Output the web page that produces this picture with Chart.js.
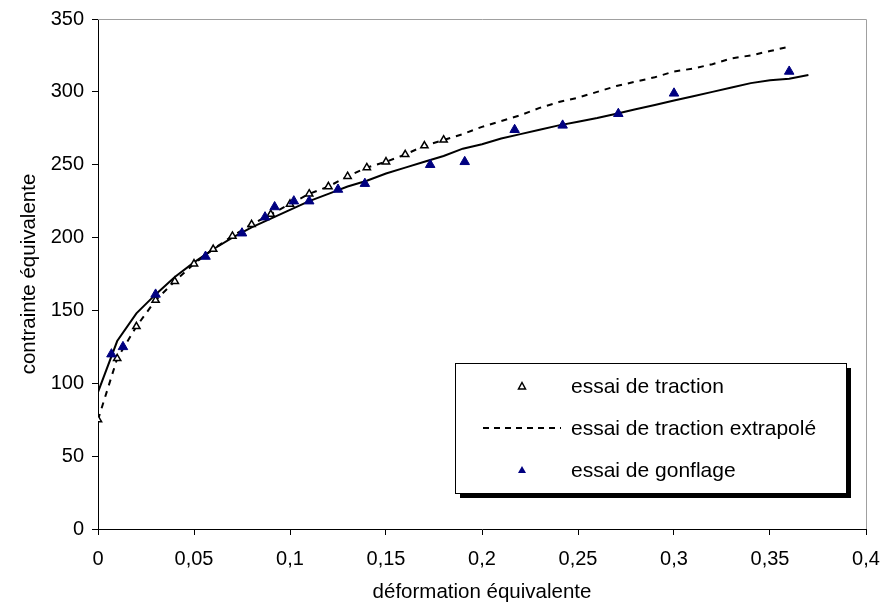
<!DOCTYPE html>
<html>
<head>
<meta charset="utf-8">
<script src="https://cdn.jsdelivr.net/npm/chart.js"></script>
<style>
  html, body { margin: 0; padding: 0; background: #fff; }
</style>
</head>
<body>
<canvas id="chart" width="884" height="608"></canvas>
<script>
// essai de traction (open triangles)
const tractionX = [0, 0.01, 0.02, 0.03, 0.04, 0.05, 0.06, 0.07, 0.08, 0.09, 0.1, 0.11, 0.12, 0.13, 0.14, 0.15, 0.16, 0.17, 0.18];
const tractionY = [75, 117, 139, 157, 170, 182, 192, 201, 209, 216, 223, 230, 235, 242, 248, 252, 257, 263, 267];

// extrapolated part of the tensile curve (dashed)
const extrapX = [0.19, 0.2, 0.21, 0.22, 0.23, 0.24, 0.25, 0.26, 0.27, 0.28, 0.29, 0.3, 0.31, 0.32, 0.33, 0.34, 0.35, 0.36];
const extrapY = [271, 276, 280, 284, 289, 293, 296, 300, 304, 307, 310, 314, 316, 319, 323, 325, 328, 331];

// essai de gonflage (filled triangles)
const gonflageX = [0.007, 0.013, 0.03, 0.056, 0.075, 0.087, 0.092, 0.102, 0.11, 0.125, 0.139, 0.173, 0.191, 0.217, 0.242, 0.271, 0.3, 0.36];
const gonflageY = [120, 125, 161, 187, 203, 214, 221, 225, 225, 233, 237, 250, 252, 274, 277, 285, 299, 314];

// solid curve (no legend entry)
const modelX = [0, 0.01, 0.02, 0.03, 0.04, 0.05, 0.06, 0.07, 0.08, 0.09, 0.1, 0.11, 0.12, 0.13, 0.14, 0.15, 0.16, 0.17, 0.18, 0.19,
  0.2, 0.21, 0.22, 0.23, 0.24, 0.25, 0.26, 0.27, 0.28, 0.29, 0.3, 0.31, 0.32, 0.33, 0.34, 0.35, 0.36, 0.37];
const modelY = [94, 129, 148, 161, 173, 183, 192, 200, 207, 213, 219, 225, 230, 235, 239, 244, 248, 252, 256, 261,
  264, 268, 271, 274, 277, 279.5, 282, 285, 288, 291, 294, 297, 300, 303, 306, 308, 309, 311.5];

const xTicks = [0, 0.05, 0.1, 0.15, 0.2, 0.25, 0.3, 0.35, 0.4];

const toPoints = (xs, ys) => xs.map((x, i) => ({ x, y: ys[i] }));

const FONT = "'Liberation Sans', Arial, sans-serif";
const NAVY = "#000080";

// legend box with a hard shadow, inside the plot
const legendBox = {
  id: "legendBox",
  afterDraw(chart) {
    const c = chart.ctx;
    const left = 455, top = 363, w = 391, h = 130;
    c.save();
    c.fillStyle = "#000";
    c.fillRect(left + 5, top + 5, w, h);
    c.fillStyle = "#fff";
    c.fillRect(left, top, w, h);
    c.strokeStyle = "#000";
    c.lineWidth = 1;
    c.strokeRect(left + 0.5, top + 0.5, w, h);

    c.font = "21px " + FONT;
    c.fillStyle = "#000";
    c.textBaseline = "alphabetic";
    const textX = 571;
    const rows = [386, 428, 470];
    const base = 7;

    // open triangle
    c.beginPath();
    c.moveTo(522, rows[0] - 3.5);
    c.lineTo(525.5, rows[0] + 3);
    c.lineTo(518.5, rows[0] + 3);
    c.closePath();
    c.lineWidth = 1.5;
    c.stroke();
    c.fillText("essai de traction", textX, rows[0] + base);

    // dashed line
    c.beginPath();
    c.setLineDash([6, 5]);
    c.lineWidth = 2;
    c.moveTo(483, rows[1]);
    c.lineTo(561, rows[1]);
    c.stroke();
    c.setLineDash([]);
    c.fillText("essai de traction extrapolé", textX, rows[1] + base);

    // filled triangle
    c.fillStyle = NAVY;
    c.beginPath();
    c.moveTo(522, rows[2] - 4);
    c.lineTo(526, rows[2] + 3);
    c.lineTo(518, rows[2] + 3);
    c.closePath();
    c.fill();
    c.fillStyle = "#000";
    c.fillText("essai de gonflage", textX, rows[2] + base);
    c.restore();
  }
};

// grey top/right frame of the plot area
const frame = {
  id: "frame",
  beforeDatasetsDraw(chart) {
    const { ctx, chartArea: a } = chart;
    ctx.save();
    ctx.strokeStyle = "#a0a0a0";
    ctx.lineWidth = 1;
    ctx.beginPath();
    ctx.moveTo(a.left, a.top + 0.5);
    ctx.lineTo(a.right + 0.5, a.top + 0.5);
    ctx.lineTo(a.right + 0.5, a.bottom);
    ctx.stroke();
    ctx.restore();
  }
};

new Chart(document.getElementById("chart"), {
  type: "scatter",
  data: {
    datasets: [
      {
        label: "courbe",
        type: "line",
        data: toPoints(modelX, modelY),
        borderColor: "#000",
        borderWidth: 2,
        pointRadius: 0,
        tension: 0,
        order: 4
      },
      {
        label: "essai de traction extrapolé",
        type: "line",
        data: toPoints(tractionX.concat(extrapX), tractionY.concat(extrapY)),
        borderColor: "#000",
        borderWidth: 2,
        borderDash: [6, 6],
        pointRadius: 0,
        tension: 0,
        order: 3
      },
      {
        label: "essai de traction",
        data: toPoints(tractionX, tractionY),
        pointStyle: "triangle",
        pointRadius: 4.2,
        borderColor: "#000",
        borderWidth: 1.5,
        backgroundColor: "#fff",
        order: 2
      },
      {
        label: "essai de gonflage",
        data: toPoints(gonflageX, gonflageY),
        pointStyle: "triangle",
        pointRadius: 5.5,
        borderColor: NAVY,
        borderWidth: 1,
        backgroundColor: NAVY,
        order: 1
      }
    ]
  },
  options: {
    responsive: false,
    animation: false,
    devicePixelRatio: 1,
    layout: { padding: { left: 0, top: 19, right: 18, bottom: 0 } },
    plugins: {
      legend: { display: false },
      tooltip: { enabled: false }
    },
    scales: {
      x: {
        type: "linear",
        min: 0,
        max: 0.4,
        afterBuildTicks(scale) {
          scale.ticks = xTicks.map((v) => ({ value: v }));
        },
        afterFit(scale) {
          scale.height = 79;
          scale.paddingLeft = 0;
          scale.paddingRight = 0;
        },
        ticks: {
          color: "#000",
          font: { family: FONT, size: 20 },
          padding: 12,
          maxRotation: 0,
          callback: (v) => String(Math.round(v * 100) / 100).replace(".", ",")
        },
        grid: {
          drawOnChartArea: false,
          drawTicks: true,
          tickLength: 6,
          color: "#000"
        },
        border: { display: true, color: "#000", width: 1 },
        title: {
          display: true,
          text: "déformation équivalente",
          color: "#000",
          font: { family: FONT, size: 20.5 },
          padding: { top: 0, bottom: 3 }
        }
      },
      y: {
        min: 0,
        max: 350,
        afterFit(scale) {
          scale.width = 98;
          scale.paddingTop = 0;
          scale.paddingBottom = 0;
        },
        ticks: {
          stepSize: 50,
          color: "#000",
          font: { family: FONT, size: 20 },
          padding: 8
        },
        grid: {
          drawOnChartArea: false,
          drawTicks: true,
          tickLength: 6,
          color: "#000"
        },
        border: { display: true, color: "#000", width: 1 },
        title: {
          display: true,
          text: "contrainte équivalente",
          color: "#000",
          font: { family: FONT, size: 20.5 },
          padding: { top: 17, bottom: 0 }
        }
      }
    }
  },
  plugins: [frame, legendBox]
});
</script>
</body>
</html>
